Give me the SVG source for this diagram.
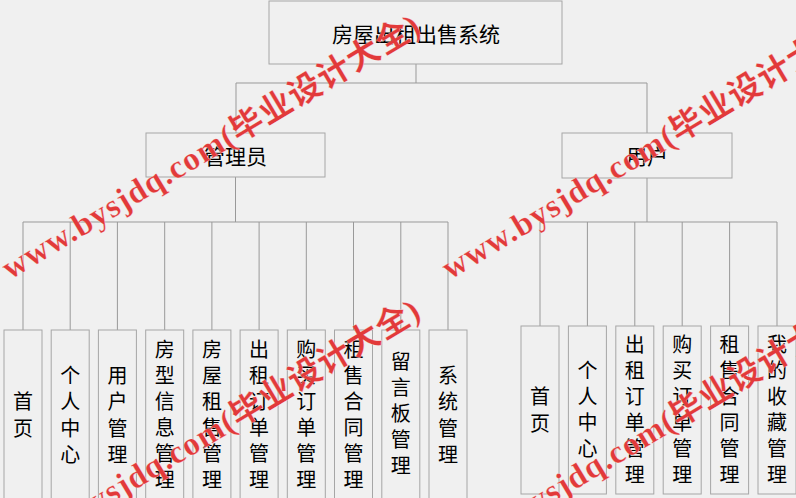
<svg xmlns="http://www.w3.org/2000/svg" width="796" height="498" viewBox="0 0 796 498">
<style>
.bg{fill:#f0f0f0}
.box{fill:#f0f0f0;stroke:#a6a6a6;stroke-width:1}
.ln{fill:none;stroke:#999999;stroke-width:1}
.t{font-family:"Noto Sans CJK SC","Microsoft YaHei",sans-serif;font-size:20px;fill:#000;text-anchor:middle;dominant-baseline:central}
.h{font-size:21px}
.wm{font-family:"Liberation Serif","Noto Sans CJK SC",serif;font-size:33px;letter-spacing:1px;fill:#e23a3a;font-weight:bold;stroke:#ffffff;stroke-width:0.4;stroke-opacity:0.6}
</style>
<rect class="bg" x="0" y="0" width="796" height="498"/>
<g id="connectors">
<path class="ln" d="M416 64V83M236 83H647M236 83V133M647 83V133"/>
<path class="ln" d="M235.5 177V222M23 222H448M23 222V330M70.2 222V330M117.4 222V330M164.7 222V330M211.9 222V330M259.1 222V330M306.3 222V330M353.5 222V330M400.8 222V330M448 222V330"/>
<path class="ln" d="M647 178V222M540 222H777M540 222V326M587.4 222V326M634.8 222V326M682.2 222V326M729.6 222V326M777 222V326"/>
</g>
<g id="root"><rect class="box" x="269" y="1" width="293" height="63"/><text class="t h" x="416" y="33">房屋出租出售系统</text></g>
<g id="admin"><rect class="box" x="146" y="133" width="179" height="44"/><text class="t h" x="235.5" y="155">管理员</text></g>
<g id="user"><rect class="box" x="562" y="133" width="170" height="45"/><text class="t h" x="647" y="155">用户</text></g>
<g id="a1"><rect class="box" x="4" y="330" width="38" height="172"/><text class="t"><tspan x="23" y="400">首</tspan><tspan x="23" y="427">页</tspan></text></g>
<g id="a2"><rect class="box" x="51.2" y="330" width="38" height="172"/><text class="t"><tspan x="70.2" y="373.5">个</tspan><tspan x="70.2" y="400">人</tspan><tspan x="70.2" y="426.5">中</tspan><tspan x="70.2" y="453">心</tspan></text></g>
<g id="a3"><rect class="box" x="98.4" y="330" width="38" height="172"/><text class="t"><tspan x="117.4" y="373.5">用</tspan><tspan x="117.4" y="400">户</tspan><tspan x="117.4" y="426.5">管</tspan><tspan x="117.4" y="453">理</tspan></text></g>
<g id="a4"><rect class="box" x="145.7" y="330" width="38" height="172"/><text class="t"><tspan x="164.7" y="348">房</tspan><tspan x="164.7" y="374">型</tspan><tspan x="164.7" y="400">信</tspan><tspan x="164.7" y="426">息</tspan><tspan x="164.7" y="452">管</tspan><tspan x="164.7" y="478">理</tspan></text></g>
<g id="a5"><rect class="box" x="192.9" y="330" width="38" height="172"/><text class="t"><tspan x="211.9" y="348">房</tspan><tspan x="211.9" y="374">屋</tspan><tspan x="211.9" y="400">租</tspan><tspan x="211.9" y="426">售</tspan><tspan x="211.9" y="452">管</tspan><tspan x="211.9" y="478">理</tspan></text></g>
<g id="a6"><rect class="box" x="240.1" y="330" width="38" height="172"/><text class="t"><tspan x="259.1" y="348">出</tspan><tspan x="259.1" y="374">租</tspan><tspan x="259.1" y="400">订</tspan><tspan x="259.1" y="426">单</tspan><tspan x="259.1" y="452">管</tspan><tspan x="259.1" y="478">理</tspan></text></g>
<g id="a7"><rect class="box" x="287.3" y="330" width="38" height="172"/><text class="t"><tspan x="306.3" y="348">购</tspan><tspan x="306.3" y="374">买</tspan><tspan x="306.3" y="400">订</tspan><tspan x="306.3" y="426">单</tspan><tspan x="306.3" y="452">管</tspan><tspan x="306.3" y="478">理</tspan></text></g>
<g id="a8"><rect class="box" x="334.5" y="330" width="38" height="172"/><text class="t"><tspan x="353.5" y="348">租</tspan><tspan x="353.5" y="374">售</tspan><tspan x="353.5" y="400">合</tspan><tspan x="353.5" y="426">同</tspan><tspan x="353.5" y="452">管</tspan><tspan x="353.5" y="478">理</tspan></text></g>
<g id="a9"><rect class="box" x="381.8" y="330" width="38" height="172"/><text class="t"><tspan x="400.8" y="360">留</tspan><tspan x="400.8" y="386">言</tspan><tspan x="400.8" y="412">板</tspan><tspan x="400.8" y="438">管</tspan><tspan x="400.8" y="464">理</tspan></text></g>
<g id="a10"><rect class="box" x="429" y="330" width="38" height="172"/><text class="t"><tspan x="448" y="373.5">系</tspan><tspan x="448" y="400">统</tspan><tspan x="448" y="426.5">管</tspan><tspan x="448" y="453">理</tspan></text></g>
<g id="u1"><rect class="box" x="521" y="326" width="38" height="168"/><text class="t"><tspan x="540" y="395">首</tspan><tspan x="540" y="422">页</tspan></text></g>
<g id="u2"><rect class="box" x="568.4" y="326" width="38" height="168"/><text class="t"><tspan x="587.4" y="369">个</tspan><tspan x="587.4" y="395">人</tspan><tspan x="587.4" y="421">中</tspan><tspan x="587.4" y="447">心</tspan></text></g>
<g id="u3"><rect class="box" x="615.8" y="326" width="38" height="168"/><text class="t"><tspan x="634.8" y="343">出</tspan><tspan x="634.8" y="369">租</tspan><tspan x="634.8" y="395">订</tspan><tspan x="634.8" y="421">单</tspan><tspan x="634.8" y="447">管</tspan><tspan x="634.8" y="473">理</tspan></text></g>
<g id="u4"><rect class="box" x="663.2" y="326" width="38" height="168"/><text class="t"><tspan x="682.2" y="343">购</tspan><tspan x="682.2" y="369">买</tspan><tspan x="682.2" y="395">订</tspan><tspan x="682.2" y="421">单</tspan><tspan x="682.2" y="447">管</tspan><tspan x="682.2" y="473">理</tspan></text></g>
<g id="u5"><rect class="box" x="710.6" y="326" width="38" height="168"/><text class="t"><tspan x="729.6" y="343">租</tspan><tspan x="729.6" y="369">售</tspan><tspan x="729.6" y="395">合</tspan><tspan x="729.6" y="421">同</tspan><tspan x="729.6" y="447">管</tspan><tspan x="729.6" y="473">理</tspan></text></g>
<g id="u6"><rect class="box" x="758" y="326" width="38" height="168"/><text class="t"><tspan x="777" y="343">我</tspan><tspan x="777" y="369">的</tspan><tspan x="777" y="395">收</tspan><tspan x="777" y="421">藏</tspan><tspan x="777" y="447">管</tspan><tspan x="777" y="473">理</tspan></text></g>
<g id="watermarks">
<text class="wm" transform="translate(10 280) rotate(-31)">www.bysjdq.com(毕业设计大全)</text>
<text class="wm" transform="translate(450 280) rotate(-31)">www.bysjdq.com(毕业设计大全)</text>
<text class="wm" transform="translate(10 565) rotate(-31)">www.bysjdq.com(毕业设计大全)</text>
<text class="wm" transform="translate(450 565) rotate(-31)">www.bysjdq.com(毕业设计大全)</text>
</g>
</svg>
